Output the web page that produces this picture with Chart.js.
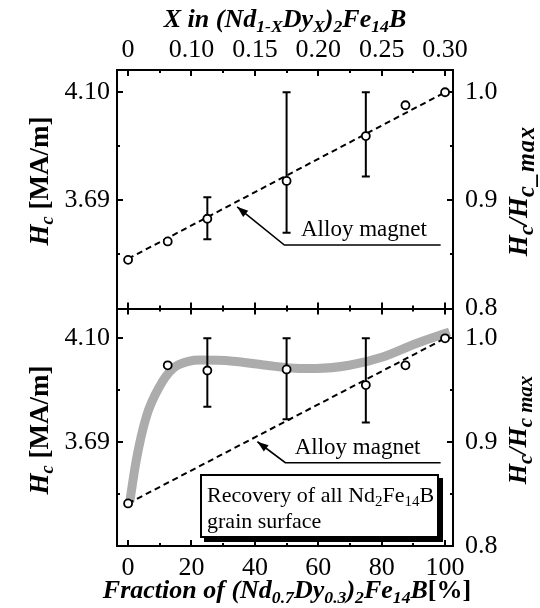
<!DOCTYPE html>
<html>
<head>
<meta charset="utf-8">
<title>Hc vs fraction of (Nd0.7Dy0.3)2Fe14B</title>
<script src="https://cdn.jsdelivr.net/npm/chart.js@4.4.1/dist/chart.umd.min.js"></script>
<style>
  body { margin: 0; background: #fff; }
  #wrap { position: relative; width: 540px; height: 608px; overflow: hidden; font-family: 'Liberation Serif', 'DejaVu Serif', Times, serif; color: #000; }
  #wrap canvas { position: absolute; left: 0; top: 0; }
  .lbl { position: absolute; white-space: nowrap; font-weight: bold; line-height: 1; }
  .lbl sub, #recoveryBox sub { font-size: 0.68em; vertical-align: -0.3em; line-height: 0; }
  .lbl sub.big { font-size: 0.9em; letter-spacing: 1px; }
  .lbl sub.mid { font-size: 0.8em; }
  .it { font-style: italic; }
  .up { font-style: normal; }
  .hcenter { transform: translateX(-50%); }
  .vert { transform: translate(-50%, -50%) rotate(-90deg); }
  #recoveryBox { position: absolute; box-sizing: border-box; border: 2px solid #000; box-shadow: 4px 4px 0 #000; background: #fff;
                 padding: 6px 0 0 5px; font-size: 22px; line-height: 26px; white-space: nowrap; }
</style>
</head>
<body>
<div id="wrap">
  <canvas id="topPanel" width="540" height="608"></canvas>
  <canvas id="bottomPanel" width="540" height="608"></canvas>

  <div class="lbl it hcenter" style="left:285px; top:6px; font-size:26px;">X in (Nd<sub>1-X</sub>Dy<sub>X</sub>)<sub>2</sub>Fe<sub>14</sub>B</div>
  <div class="lbl it hcenter" style="left:287px; top:577px; font-size:26px;">Fraction of (Nd<sub>0.7</sub>Dy<sub>0.3</sub>)<sub>2</sub>Fe<sub>14</sub>B<span class="up">[%]</span></div>

  <div class="lbl vert" style="left:39px; top:181px; font-size:27px;"><span class="it">H<sub>c</sub></span> [MA/m]</div>
  <div class="lbl vert" style="left:39px; top:430px; font-size:27px;"><span class="it">H<sub>c</sub></span> [MA/m]</div>
  <div class="lbl it vert" style="left:518px; top:191px; font-size:27px;">H<sub class="mid">c</sub>/H<sub class="big">c_max</sub></div>
  <div class="lbl it vert" style="left:518px; top:430px; font-size:26px;">H<sub class="mid">c</sub>/H<sub class="mid">c max</sub></div>

  <div id="recoveryBox">Recovery of all Nd<sub>2</sub>Fe<sub>14</sub>B<br>grain surface</div>
</div>

<script>
// Fraction of (Nd0.7Dy0.3)2Fe14B [%] for each sample
const fraction = [0, 12.5, 25, 50, 75, 87.5, 100];

// Alloy magnets (top panel), Hc / Hc_max
const alloyRatio = [0.845, 0.862, 0.883, 0.918, 0.9595, 0.988, 1.0];
const alloyErrLow = [null, null, 0.864, 0.870, 0.922, null, null];
const alloyErrHigh = [null, null, 0.903, 1.0, 1.0, null, null];

// Mixed powder magnets (bottom panel), Hc / Hc_max
const mixRatio = [0.841, 0.974, 0.969, 0.970, 0.955, 0.974, 1.0];
const mixErrLow = [null, null, 0.934, 0.922, 0.919, null, null];
const mixErrHigh = [null, null, 1.0, 1.0, 1.0, null, null];

// Dashed alloy-magnet trend
const trendX = [0, 100];
const trendTop = [0.846, 1.0];
const trendBottom = [0.841, 1.0];

// Grey guide curve (recovery of all grain surface)
const recoveryX = [0.5, 2.6, 5.8, 10, 14.2, 19.4, 22.6, 33, 43.6, 54, 59.4, 69.8, 80.3, 90.9, 101.4];
const recoveryY = [0.842, 0.883, 0.925, 0.954, 0.971, 0.978, 0.979, 0.978, 0.974, 0.971, 0.971, 0.974, 0.982, 0.995, 1.006];

// Ticks and tick labels
const fractionTicks = [0, 20, 40, 60, 80, 100];
const fractionMinorTicks = [10, 30, 50, 70, 90];
const fractionTickLabels = ['0', '20', '40', '60', '80', '100'];
const dyTickLabels = ['0', '0.10', '0.15', '0.20', '0.25', '0.30'];
const ratioTicks = [0.8, 0.9, 1.0];
const ratioMinorTicks = [0.85, 0.95];
const ratioTickLabels = ['0.8', '0.9', '1.0'];
const hcTickLabels = ['', '3.69', '4.10'];

// Axis ranges
const xRange = [-3.5, 102.5];
const topRange = [0.8, 1.0206];
const bottomRange = [0.8, 1.0287];

const serif = "'Liberation Serif', 'DejaVu Serif', Times, serif";
Chart.defaults.font.family = serif;
Chart.defaults.color = '#000';

const pts = (xs, ys) => xs.map((x, i) => ({ x: x, y: ys[i] }));

// Axis with inward tick marks; minor axes take no space and only draw short ticks
function makeAxis(position, range, values, labels, opts) {
  const horiz = position === 'top' || position === 'bottom';
  return {
    type: 'linear',
    position: position,
    min: range[0],
    max: range[1],
    weight: opts.minor ? 0 : 1,
    afterBuildTicks: s => { s.ticks = values.map(v => ({ value: v })); },
    afterFit: s => { if (horiz) s.height = opts.size || 0; else s.width = opts.size || 0; },
    grid: { drawOnChartArea: false, drawTicks: true, tickLength: opts.minor ? -3 : -6, lineWidth: 2, tickWidth: 2, tickColor: '#000' },
    border: { display: !opts.minor, color: '#000', width: 2 },
    ticks: {
      display: !!labels,
      padding: opts.pad || 0,
      color: '#000',
      font: { family: serif, size: 26 },
      maxRotation: 0,
      autoSkip: false,
      callback: (v, i) => labels ? labels[i] : ''
    }
  };
}

// Error bars: one short vertical line per sample, caps drawn as 'line' points
function errorBars(lows, highs) {
  const sets = [];
  fraction.forEach((f, i) => {
    if (lows[i] === null) return;
    sets.push({
      type: 'line',
      data: [{ x: f, y: lows[i] }, { x: f, y: highs[i] }],
      borderColor: '#000',
      borderWidth: 2,
      pointStyle: 'line',
      pointRadius: 4,
      pointBorderWidth: 2,
      pointBorderColor: '#000',
      order: 3
    });
  });
  return sets;
}

function markers(ys) {
  return {
    data: pts(fraction, ys),
    pointStyle: 'circle',
    pointRadius: 4,
    pointBorderWidth: 1.8,
    pointBorderColor: '#000',
    pointBackgroundColor: '#fff',
    order: 1
  };
}

function trend(ys) {
  return {
    type: 'line',
    data: pts(trendX, ys),
    borderColor: '#000',
    borderWidth: 2,
    borderDash: [6, 4],
    pointRadius: 0,
    order: 4
  };
}

// "Alloy magnet" label with leader line and arrow
const alloyNotePlugin = {
  id: 'alloyNote',
  afterDatasetsDraw(chart, args, note) {
    const xs = chart.scales.x, ys = chart.scales.y, ctx = chart.ctx;
    const tx = xs.getPixelForValue(note.tip[0]), ty = ys.getPixelForValue(note.tip[1]);
    const ex = xs.getPixelForValue(note.elbow[0]), ey = ys.getPixelForValue(note.elbow[1]);
    const endX = xs.getPixelForValue(note.end);
    ctx.save();
    ctx.strokeStyle = '#000';
    ctx.fillStyle = '#000';
    ctx.lineWidth = 1.6;
    ctx.beginPath();
    ctx.moveTo(endX, ey);
    ctx.lineTo(ex, ey);
    ctx.lineTo(tx, ty);
    ctx.stroke();
    const a = Math.atan2(ty - ey, tx - ex), len = 11, half = 4;
    ctx.beginPath();
    ctx.moveTo(tx, ty);
    ctx.lineTo(tx - len * Math.cos(a) + half * Math.sin(a), ty - len * Math.sin(a) - half * Math.cos(a));
    ctx.lineTo(tx - len * Math.cos(a) - half * Math.sin(a), ty - len * Math.sin(a) + half * Math.cos(a));
    ctx.closePath();
    ctx.fill();
    ctx.font = '23px ' + serif;
    ctx.textAlign = 'center';
    ctx.textBaseline = 'alphabetic';
    ctx.fillText(note.text, xs.getPixelForValue(note.textAt[0]), ys.getPixelForValue(note.textAt[1]));
    ctx.restore();
  }
};

function panel(canvasId, cfg) {
  return new Chart(document.getElementById(canvasId), {
    type: 'scatter',
    data: { datasets: cfg.datasets },
    options: {
      responsive: false,
      animation: false,
      events: [],
      layout: { padding: cfg.padding },
      plugins: { legend: { display: false }, tooltip: { enabled: false }, alloyNote: cfg.note },
      scales: {
        x: makeAxis('bottom', xRange, fractionTicks, cfg.bottomLabels, { size: cfg.bottomSize, pad: 13 }),
        x2: makeAxis('bottom', xRange, fractionMinorTicks, null, { minor: true }),
        xt: makeAxis('top', xRange, fractionTicks, cfg.topLabels, { size: cfg.topSize, pad: 10 }),
        xt2: makeAxis('top', xRange, fractionMinorTicks, null, { minor: true }),
        y: makeAxis('left', cfg.yRange, ratioTicks, hcTickLabels, { size: 117, pad: 13 }),
        y2: makeAxis('left', cfg.yRange, ratioMinorTicks, null, { minor: true }),
        yr: makeAxis('right', cfg.yRange, ratioTicks, ratioTickLabels, { size: 87, pad: 18 }),
        yr2: makeAxis('right', cfg.yRange, ratioMinorTicks, null, { minor: true })
      }
    },
    plugins: [alloyNotePlugin]
  });
}

// Top panel: alloy magnets, Dy content on the top axis
panel('topPanel', {
  yRange: topRange,
  padding: { top: 0, left: 0, right: 0, bottom: 299.5 },
  topLabels: dyTickLabels, topSize: 70,
  bottomLabels: null, bottomSize: 0,
  note: { tip: [34.4, 0.894], elbow: [49.3, 0.8587], end: 98.6, text: 'Alloy magnet', textAt: [74.4, 0.867] },
  datasets: [trend(trendTop)].concat(errorBars(alloyErrLow, alloyErrHigh), [markers(alloyRatio)])
});

// Bottom panel: mixed magnets with the grey recovery curve
const bottomChart = panel('bottomPanel', {
  yRange: bottomRange,
  padding: { top: 308.5, left: 0, right: 0, bottom: 0 },
  topLabels: null, topSize: 0,
  bottomLabels: fractionTickLabels, bottomSize: 62,
  note: { tip: [40.8, 0.9004], elbow: [49.6, 0.8802], end: 98.6, text: 'Alloy magnet', textAt: [72.4, 0.8886] },
  datasets: [{
    type: 'line',
    data: pts(recoveryX, recoveryY),
    borderColor: 'rgb(172,172,172)',
    borderWidth: 9,
    cubicInterpolationMode: 'monotone',
    pointRadius: 0,
    order: 5
  }, trend(trendBottom)].concat(errorBars(mixErrLow, mixErrHigh), [markers(mixRatio)])
});

// Place the caption box in data coordinates of the bottom panel
const boxFrom = [22.7, 0.8693];
const boxTo = [98.2, 0.8077];
const bx = bottomChart.scales.x, by = bottomChart.scales.y;
const box = document.getElementById('recoveryBox');
box.style.left = bx.getPixelForValue(boxFrom[0]) + 'px';
box.style.top = by.getPixelForValue(boxFrom[1]) + 'px';
box.style.width = (bx.getPixelForValue(boxTo[0]) - bx.getPixelForValue(boxFrom[0])) + 'px';
box.style.height = (by.getPixelForValue(boxTo[1]) - by.getPixelForValue(boxFrom[1])) + 'px';
</script>
</body>
</html>
